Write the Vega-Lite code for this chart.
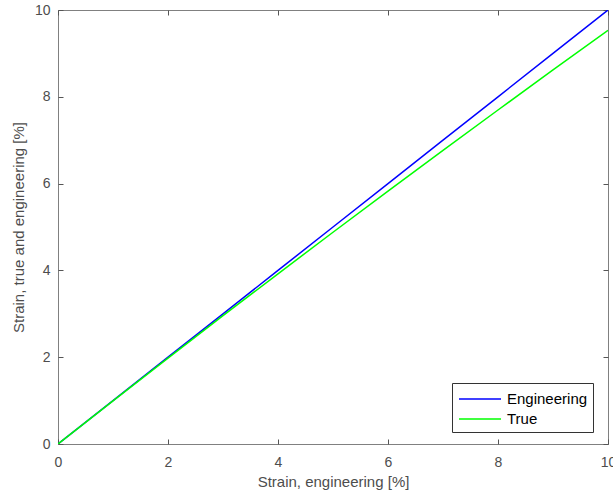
{
  "$schema": "https://vega.github.io/schema/vega-lite/v6.json",
  "width": 550,
  "height": 434,
  "autosize": {"type": "none"},
  "padding": {"left": 58, "top": 10, "right": 5, "bottom": 53},
  "background": "white",
  "config": {
    "view": {"stroke": "#808080", "strokeWidth": 1},
    "font": "Liberation Sans",
    "axis": {
      "grid": false,
      "domain": false,
      "tickColor": "#555555",
      "tickSize": -5,
      "labelFontSize": 14,
      "labelColor": "#4d4d4d",
      "titleFontSize": 15,
      "titleFontWeight": "normal",
      "titleColor": "#4d4d4d",
      "labelFont": "Liberation Sans",
      "titleFont": "Liberation Sans"
    }
  },
  "data": {
    "values": [
      {"e": 0, "strain": 0, "series": "Engineering"},
      {"e": 1, "strain": 1, "series": "Engineering"},
      {"e": 2, "strain": 2, "series": "Engineering"},
      {"e": 3, "strain": 3, "series": "Engineering"},
      {"e": 4, "strain": 4, "series": "Engineering"},
      {"e": 5, "strain": 5, "series": "Engineering"},
      {"e": 6, "strain": 6, "series": "Engineering"},
      {"e": 7, "strain": 7, "series": "Engineering"},
      {"e": 8, "strain": 8, "series": "Engineering"},
      {"e": 9, "strain": 9, "series": "Engineering"},
      {"e": 10, "strain": 10, "series": "Engineering"},
      {"e": 0, "strain": 0, "series": "True"},
      {"e": 1, "strain": 0.995, "series": "True"},
      {"e": 2, "strain": 1.980, "series": "True"},
      {"e": 3, "strain": 2.956, "series": "True"},
      {"e": 4, "strain": 3.922, "series": "True"},
      {"e": 5, "strain": 4.879, "series": "True"},
      {"e": 6, "strain": 5.827, "series": "True"},
      {"e": 7, "strain": 6.766, "series": "True"},
      {"e": 8, "strain": 7.696, "series": "True"},
      {"e": 9, "strain": 8.618, "series": "True"},
      {"e": 10, "strain": 9.531, "series": "True"}
    ]
  },
  "layer": [
    {
      "mark": {"type": "line", "strokeWidth": 1.5, "clip": true},
      "encoding": {
        "x": {
          "field": "e", "type": "quantitative",
          "scale": {"domain": [0, 10], "nice": false},
          "axis": {"title": "Strain, engineering [%]", "values": [0, 2, 4, 6, 8, 10], "labelPadding": 16, "titlePadding": 5, "labelFlush": false}
        },
        "y": {
          "field": "strain", "type": "quantitative",
          "scale": {"domain": [0, 10], "nice": false},
          "axis": {"title": "Strain, true and engineering [%]", "values": [0, 2, 4, 6, 8, 10], "labelPadding": 13, "titlePadding": 8, "labelFlush": false}
        },
        "color": {
          "field": "series", "type": "nominal",
          "scale": {"domain": ["Engineering", "True"], "range": ["#0000ff", "#00ff00"]},
          "legend": {
            "title": null,
            "orient": "none",
            "legendX": 394,
            "legendY": 373,
            "symbolType": "M-0.9,0L3.3,0",
            "symbolSize": 400,
            "symbolStrokeWidth": 1.5,
            "labelFontSize": 15,
            "labelColor": "#000000",
            "labelFont": "Liberation Sans",
            "strokeColor": "#333333",
            "fillColor": "white",
            "padding": 5,
            "rowPadding": 1,
            "labelOffset": 28
          }
        }
      }
    },
    {
      "mark": {"type": "point", "opacity": 0},
      "encoding": {
        "x": {
          "field": "e", "type": "quantitative",
          "axis": {"orient": "top", "title": null, "labels": false, "values": [0, 2, 4, 6, 8, 10]}
        },
        "y": {
          "field": "strain", "type": "quantitative",
          "axis": {"orient": "right", "title": null, "labels": false, "values": [0, 2, 4, 6, 8, 10]}
        }
      }
    }
  ],
  "resolve": {"axis": {"x": "independent", "y": "independent"}}
}
